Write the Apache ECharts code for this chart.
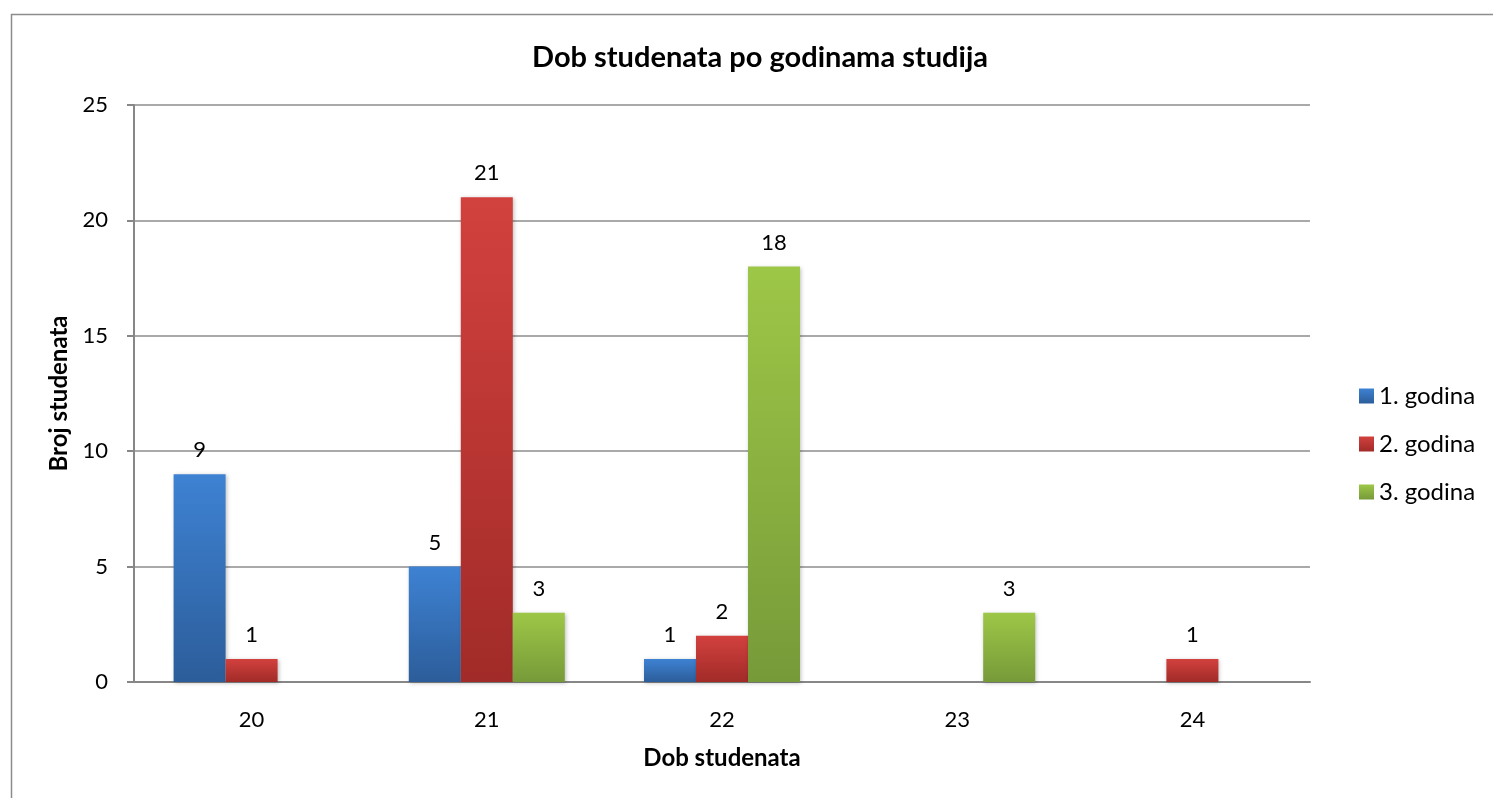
<!DOCTYPE html>
<html>
<head>
<meta charset="utf-8">
<script src="https://cdn.jsdelivr.net/npm/echarts@6/dist/echarts.min.js"></script>
<style>
  html, body { margin: 0; padding: 0; background: #fff; }
  #chart { width: 1493px; height: 798px; }
</style>
</head>
<body>
<div id="chart"></div>
<script>
const ages = ['20', '21', '22', '23', '24'];
const seriesNames = ['1. godina', '2. godina', '3. godina'];
const firstYear = [9, 5, 1, null, null];
const secondYear = [1, 21, 2, null, 1];
const thirdYear = [null, 3, 18, 3, null];
const yTicks = { min: 0, max: 25, interval: 5 };

const FONT = 'Lato, "Open Sans", sans-serif';

function grad(top, bottom) {
  return new echarts.graphic.LinearGradient(0, 0, 0, 1, [
    { offset: 0, color: top },
    { offset: 1, color: bottom },
  ]);
}

const colors = [
  grad('#3e82d3', '#2c5d9a'),
  grad('#d2413e', '#a12b28'),
  grad('#9dc747', '#779a39'),
];

function makeSerie(name, data, color) {
  return {
    name,
    type: 'bar',
    data,
    barWidth: 52,
    barGap: '0%',
    itemStyle: {
      color,
      shadowColor: 'rgba(0,0,0,0.25)',
      shadowBlur: 4,
      shadowOffsetX: 1,
      shadowOffsetY: 1,
    },
    label: {
      show: true,
      position: 'top',
      distance: 13,
      color: '#000',
      fontSize: 22,
      fontFamily: FONT,
    },
  };
}

const chart = echarts.init(document.getElementById('chart'));
chart.setOption({
  animation: false,
  backgroundColor: '#fff',
  color: ['#3a78c4', '#c23b38', '#90b843'],
  graphic: [{
    type: 'rect',
    left: 9,
    top: 12,
    shape: { width: 1600, height: 900 },
    style: { fill: 'none', stroke: '#8c8c8c', lineWidth: 1.5 },
    z: -1,
  }],
  title: {
    text: 'Dob studenata po godinama studija',
    left: 755,
    textAlign: 'center',
    top: 38,
    textStyle: { fontFamily: FONT, fontSize: 29, fontWeight: 'bold', color: '#000' },
  },
  legend: {
    data: seriesNames,
    orient: 'vertical',
    left: 1354,
    top: 379,
    itemWidth: 15,
    itemHeight: 15,
    itemGap: 24,
    icon: 'rect',
    textStyle: { fontFamily: FONT, fontSize: 24, color: '#000' },
  },
  grid: { left: 134, right: 183, top: 105, bottom: 116 },
  xAxis: {
    type: 'category',
    data: ages,
    name: 'Dob studenata',
    nameLocation: 'middle',
    nameGap: 64,
    nameTextStyle: { fontFamily: FONT, fontSize: 24, fontWeight: 'bold', color: '#000' },
    axisLine: { lineStyle: { color: '#878787', width: 2 } },
    axisTick: { show: false },
    axisLabel: { fontFamily: FONT, fontSize: 22, color: '#000', margin: 27 },
  },
  yAxis: {
    type: 'value',
    min: yTicks.min,
    max: yTicks.max,
    interval: yTicks.interval,
    name: 'Broj studenata',
    nameLocation: 'middle',
    nameGap: 60,
    nameTextStyle: { fontFamily: FONT, fontSize: 24, fontWeight: 'bold', color: '#000' },
    axisLine: { show: true, lineStyle: { color: '#878787', width: 2 } },
    axisTick: { show: true, length: 7, lineStyle: { color: '#878787', width: 2 } },
    axisLabel: { fontFamily: FONT, fontSize: 22, color: '#000', margin: 26 },
    splitLine: { lineStyle: { color: '#8c8c8c', width: 1.5 } },
  },
  series: [
    makeSerie(seriesNames[0], firstYear, colors[0]),
    makeSerie(seriesNames[1], secondYear, colors[1]),
    makeSerie(seriesNames[2], thirdYear, colors[2]),
  ],
});
</script>
</body>
</html>
